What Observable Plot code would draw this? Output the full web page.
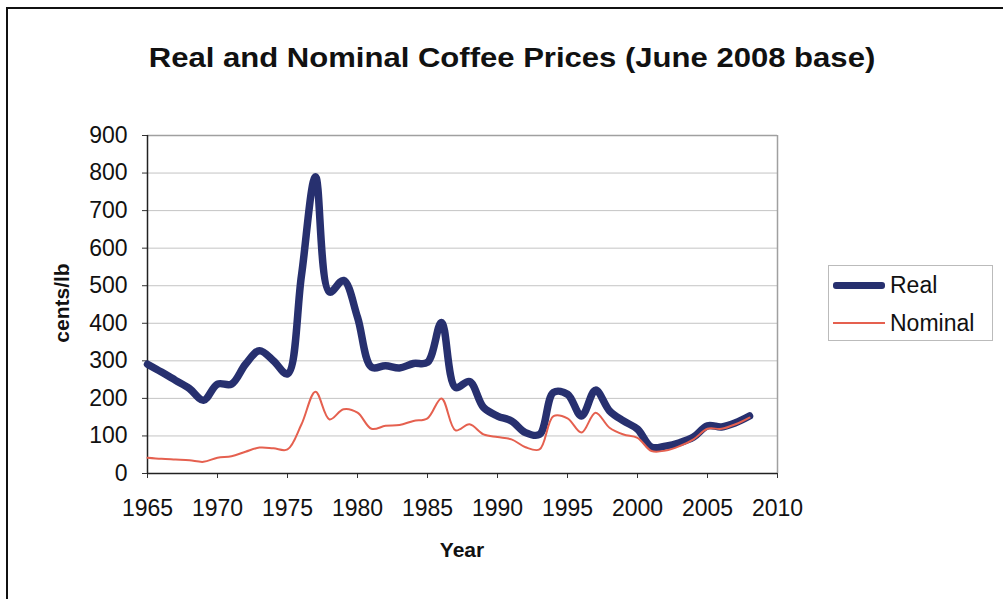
<!DOCTYPE html>
<html>
<head>
<meta charset="utf-8">
<script src="https://cdn.jsdelivr.net/npm/d3@7"></script>
<script src="https://cdn.jsdelivr.net/npm/@observablehq/plot@0.6"></script>
<style>
  html, body { margin: 0; padding: 0; background: #fff; }
  #wrap { position: relative; width: 1003px; height: 599px; overflow: hidden; font-family: "Liberation Sans", Arial, sans-serif; color: #111; }
  #frame { position: absolute; left: 6px; top: 7px; width: 1100px; height: 700px; border-left: 2px solid #111; border-top: 2px solid #111; }
  #title { position: absolute; left: 0; width: 1024px; top: 43px; text-align: center; font-weight: bold; font-size: 27px; transform: scaleX(1.15); transform-origin: 512px 0; }
  #ylabel { position: absolute; left: 62px; top: 303px; transform: translate(-50%, -50%) rotate(-90deg); font-weight: bold; font-size: 21px; white-space: nowrap; }
  #xlabel { position: absolute; left: 462px; top: 550px; transform: translate(-50%, -50%); font-weight: bold; font-size: 21px; }
  #legend { position: absolute; left: 828px; top: 265px; width: 165px; height: 76px; border: 1px solid #bbb; box-sizing: border-box; }
  .item { position: absolute; left: 4px; height: 26px; display: flex; align-items: center; font-size: 23px; }
  .sw { width: 52px; margin-right: 5px; }
  #plot { position: absolute; left: 0; top: 0; }
</style>
</head>
<body>
<div id="wrap">
  <div id="frame"></div>
  <div id="plot"></div>
  <div id="title">Real and Nominal Coffee Prices (June 2008 base)</div>
  <div id="ylabel">cents/lb</div>
  <div id="xlabel">Year</div>
  <div id="legend">
    <div class="item" style="top:6px"><div class="sw" style="height:7px;background:#27306f;border-radius:3px"></div>Real</div>
    <div class="item" style="top:44px"><div class="sw" style="height:2px;background:#e5604f"></div>Nominal</div>
  </div>
</div>
<script>
const years = [1965,1966,1967,1968,1969,1970,1971,1972,1973,1974,1975,1976,1977,1978,1979,1980,1981,1982,1983,1984,1985,1986,1987,1988,1989,1990,1991,1992,1993,1994,1995,1996,1997,1998,1999,2000,2001,2002,2003,2004,2005,2006,2007,2008];
const realPrices = [291,270,248,226,195,238,238,291,327,300,265,528,790,483,514,416,283,287,281,293,296,402,229,245,176,153,140,109,104,216,211,153,222,167,140,118,70,73,82,97,127,124,135,153];
const nominalPrices = [42,39,37,35,31,42,46,58,69,67,64,131,218,144,171,162,119,127,129,140,147,200,115,131,104,97,91,70,64,153,147,109,162,122,104,95,60,61,73,91,119,119,131,149];
const yTicks = [0,100,200,300,400,500,600,700,800,900];
const xTicks = [1965,1970,1975,1980,1985,1990,1995,2000,2005,2010];

const realData = years.map((y, i) => ({year: y, value: realPrices[i]}));
const nominalData = years.map((y, i) => ({year: y, value: nominalPrices[i]}));

const chart = Plot.plot({
  width: 1003,
  height: 599,
  marginLeft: 147,
  marginRight: 226,
  marginTop: 135,
  marginBottom: 126,
  style: {fontFamily: "Liberation Sans, Arial, sans-serif", fontSize: "23px", color: "#111", background: "transparent"},
  x: {domain: [1965, 2010]},
  y: {domain: [0, 900]},
  marks: [
    Plot.gridY(yTicks, {stroke: "#c4c4c4", strokeOpacity: 1, strokeWidth: 1}),
    Plot.ruleY([900], {stroke: "#a0a0a0", strokeWidth: 1.5}),
    Plot.ruleX([2010], {stroke: "#a0a0a0", strokeWidth: 1.5}),
    Plot.axisY({ticks: yTicks, tickSize: 5, tickPadding: 15, fontSize: 23, label: null, stroke: "#333"}),
    Plot.axisX({ticks: xTicks, tickFormat: d => String(d), tickSize: 5, tickPadding: 21, fontSize: 23, label: null, stroke: "#333"}),
    Plot.ruleY([0], {stroke: "#222", strokeWidth: 1.5}),
    Plot.ruleX([1965], {stroke: "#222", strokeWidth: 1.5}),
    Plot.line(realData, {x: "year", y: "value", stroke: "#27306f", strokeWidth: 7.5, curve: "catmull-rom"}),
    Plot.line(nominalData, {x: "year", y: "value", stroke: "#e5604f", strokeWidth: 2, curve: "catmull-rom"})
  ]
});
document.getElementById("plot").appendChild(chart);
</script>
</body>
</html>
